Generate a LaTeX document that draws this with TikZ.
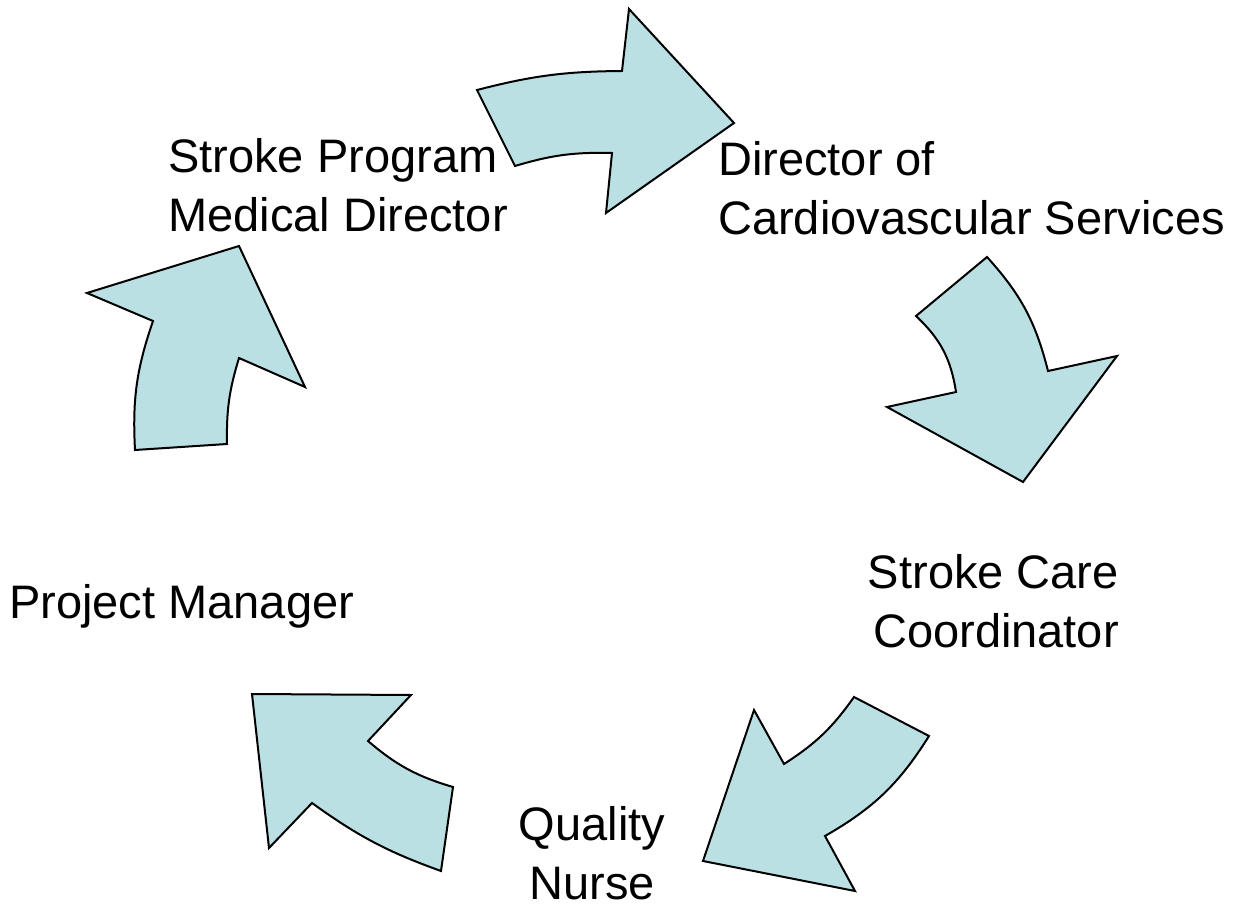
\documentclass[tikz,border=0pt]{standalone}
\usepackage{fontspec}
\setmainfont{Liberation Sans}
\definecolor{relleno}{RGB}{187,224,227}

\begin{document}
\begin{tikzpicture}[x=0.75pt, y=-0.75pt,
    flecha/.style = {draw, fill=relleno, line width=1.5pt, line join=miter},
    texto/.style = {inner sep=0pt, font=\fontsize{35.25pt}{44.25pt}\selectfont}]
    \useasboundingbox (0,0) rectangle (1239,909);

    % Flechas
    \draw[flecha] (477,90) to[bend left=7] (622,71) -- (629,9) -- (734,123)
        -- (606,213) -- (612,153) to[bend right=9] (515,166) -- cycle;
    \draw[flecha] (987,257) to[bend left=14] (1048,371) -- (1117,356) -- (1023,482)
        -- (887,407) -- (956,392) to[bend right=19] (916,316) -- cycle;
    \draw[flecha] (784,764) to[bend right=11] (854,697) -- (929,736)
        to[bend left=14] (825,836) -- (855,891) -- (703,861) -- (754,710) -- cycle;
    \draw[flecha] (252,694) -- (411,695) -- (368,741) to[bend right=12] (453,787)
        -- (441,871) to[bend left=8] (312,803) -- (269,848) -- cycle;
    \draw[flecha] (87,293) -- (239,246) -- (305,387) -- (239,358)
        to[bend right=9] (227,444) -- (135,450) to[bend left=11] (153,321) -- cycle;

    % Textos
    \node[texto, anchor=base west, align=left] (sp) at (168,232) {Stroke Program\\Medical Director};
    \node[texto, anchor=base west, align=left] (dc) at (718,235) {Director of\\Cardiovascular Services};
    \node[texto, anchor=base east, align=right] (scc) at (1119,647) {Stroke Care\\Coordinator};
    \node[texto, anchor=base, align=center] (qn) at (592,899) {Quality\\Nurse};
    \node[texto, anchor=base west] (pm) at (9,618) {Project Manager};
\end{tikzpicture}
\end{document}
